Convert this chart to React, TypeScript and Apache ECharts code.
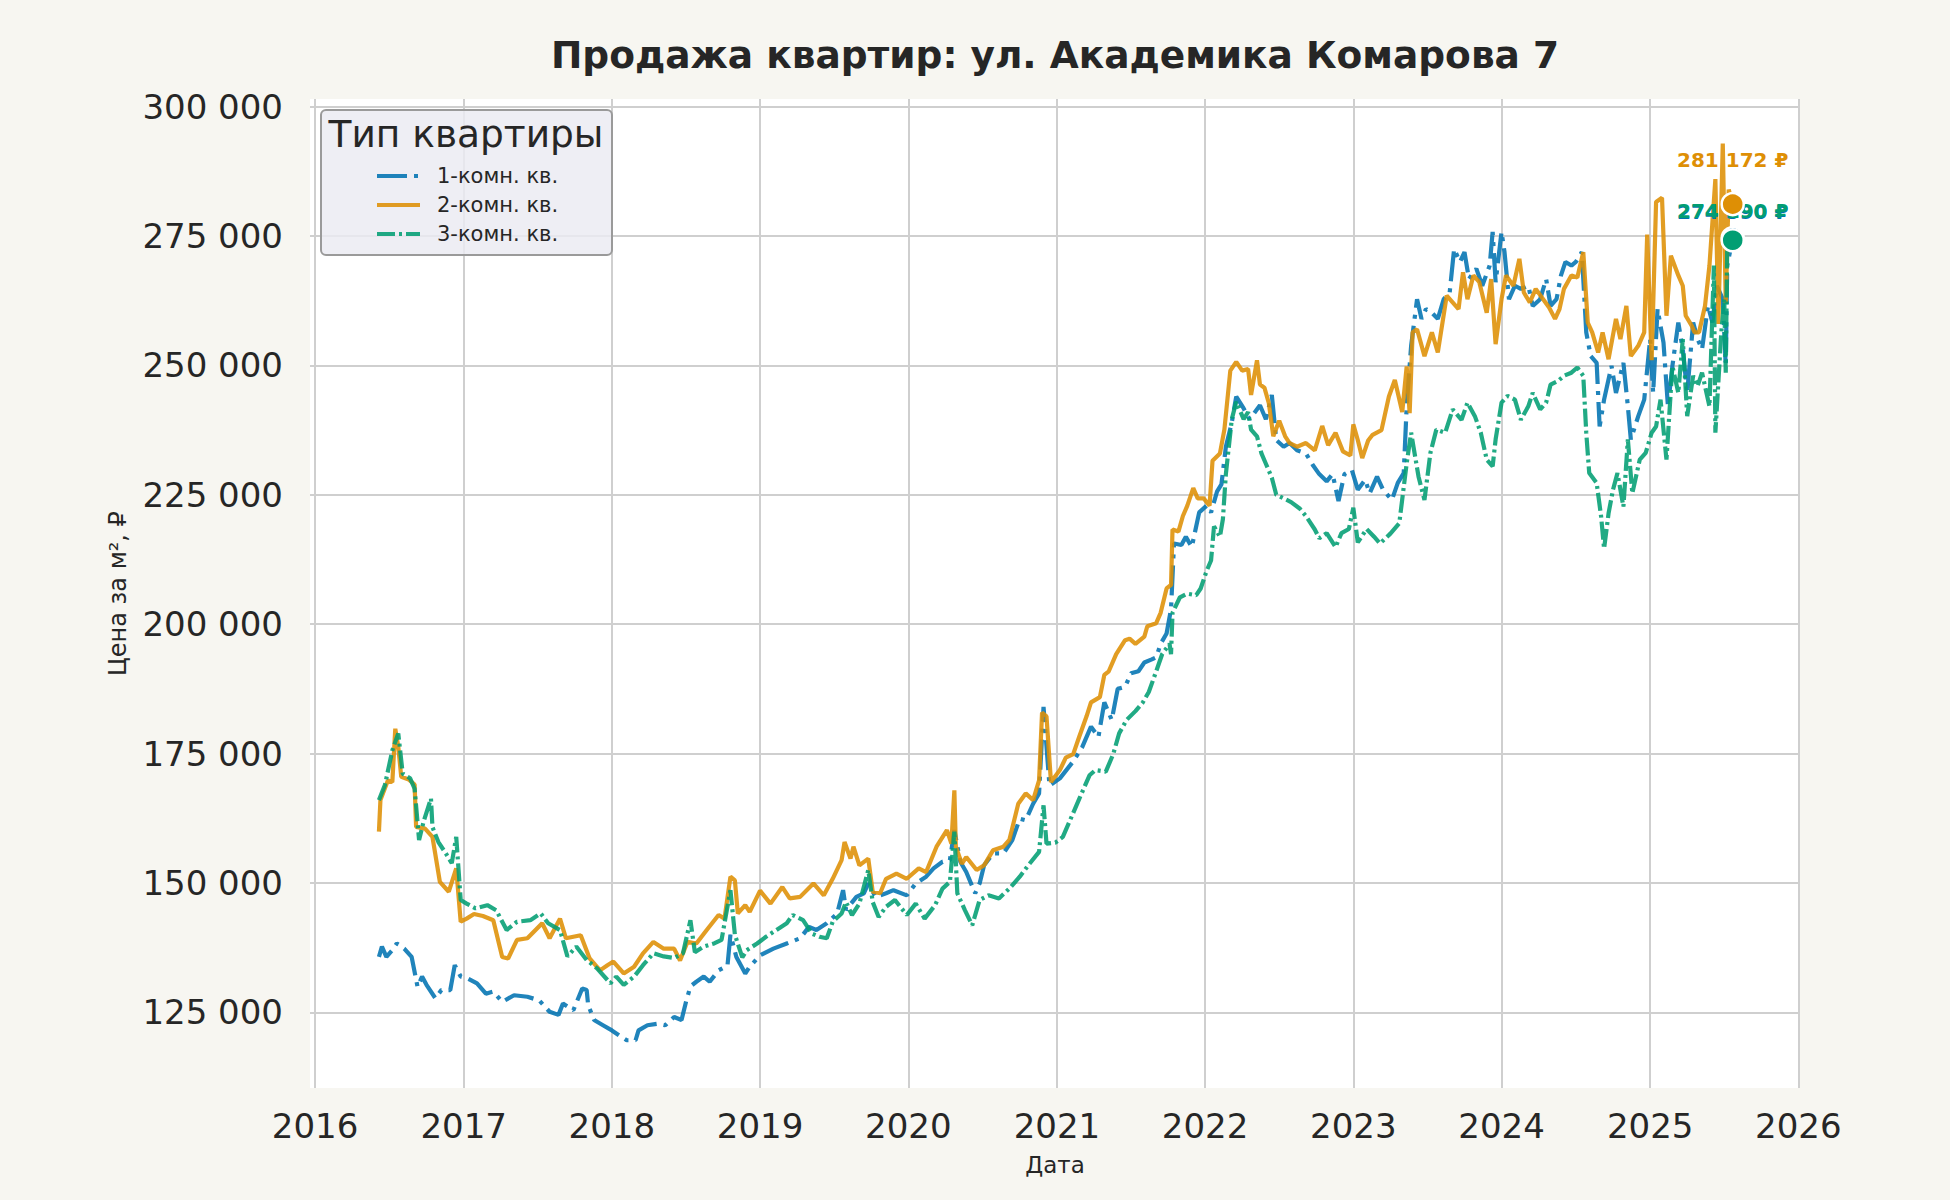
import React, { useEffect, useRef } from "react";
import * as echarts from "echarts";

const FONT = "DejaVu Sans";
const TEXT = "#262626";
const BG = "#f7f6f1";

const chartTitle = "Продажа квартир: ул. Академика Комарова 7";
const legendTitle = "Тип квартиры";
const seriesNames = ["1-комн. кв.", "2-комн. кв.", "3-комн. кв."];
const seriesColors = ["#0173b2", "#de8f05", "#029e73"];
const yearTicks = [2016, 2017, 2018, 2019, 2020, 2021, 2022, 2023, 2024, 2025, 2026];
const priceTicks = [125000, 150000, 175000, 200000, 225000, 250000, 275000, 300000];

// 1-комн. кв.: decimal year / price in thousand ₽ per m²
const oneRoomT = [
  2016.43, 2016.45, 2016.48, 2016.52, 2016.55, 2016.6, 2016.65, 2016.69, 2016.72, 2016.75, 2016.81, 2016.85, 2016.91, 2016.94, 2016.98,
  2017.03, 2017.09, 2017.15, 2017.2, 2017.26, 2017.34, 2017.43, 2017.51, 2017.58, 2017.64, 2017.67, 2017.74, 2017.8, 2017.83, 2017.84, 2017.88, 2017.94,
  2018.0, 2018.06, 2018.1, 2018.16, 2018.18, 2018.24, 2018.31, 2018.36, 2018.42, 2018.47, 2018.5, 2018.53, 2018.57, 2018.62, 2018.66, 2018.72, 2018.78, 2018.8, 2018.84, 2018.9, 2018.93,
  2019.0, 2019.09, 2019.18, 2019.27, 2019.33, 2019.38, 2019.45, 2019.52, 2019.56, 2019.58, 2019.65, 2019.7, 2019.73, 2019.78, 2019.85, 2019.9, 2019.99,
  2020.05, 2020.12, 2020.17, 2020.23, 2020.28, 2020.31, 2020.35, 2020.39, 2020.45, 2020.48, 2020.51, 2020.57, 2020.64, 2020.7, 2020.75, 2020.79, 2020.84, 2020.88, 2020.91, 2020.95,
  2021.02, 2021.11, 2021.17, 2021.23, 2021.28, 2021.32, 2021.37, 2021.41, 2021.46, 2021.5, 2021.55, 2021.59, 2021.64, 2021.67, 2021.7, 2021.74, 2021.77, 2021.79, 2021.84, 2021.87, 2021.91, 2021.93, 2021.96,
  2022.01, 2022.04, 2022.08, 2022.11, 2022.14, 2022.18, 2022.21, 2022.26, 2022.3, 2022.37, 2022.41, 2022.45, 2022.48, 2022.53, 2022.57, 2022.62, 2022.68, 2022.73, 2022.77, 2022.82, 2022.86, 2022.9, 2022.94, 2022.99,
  2023.03, 2023.08, 2023.11, 2023.16, 2023.2, 2023.26, 2023.3, 2023.34, 2023.36, 2023.39, 2023.43, 2023.46, 2023.49, 2023.53, 2023.57, 2023.61, 2023.65, 2023.68, 2023.72, 2023.75, 2023.78, 2023.83, 2023.87, 2023.92, 2023.94, 2023.96,
  2024.0, 2024.02, 2024.05, 2024.09, 2024.13, 2024.18, 2024.21, 2024.26, 2024.3, 2024.33, 2024.37, 2024.4, 2024.43, 2024.47, 2024.5, 2024.54, 2024.57, 2024.6, 2024.64, 2024.66, 2024.69, 2024.74, 2024.77, 2024.82, 2024.85, 2024.87, 2024.92, 2024.96,
  2025.0, 2025.02, 2025.05, 2025.09, 2025.12, 2025.15, 2025.19, 2025.22, 2025.25, 2025.29, 2025.32, 2025.35, 2025.39, 2025.42, 2025.45, 2025.49, 2025.51, 2025.52, 2025.557,
];
const oneRoomK = [
  135.7, 137.7, 135.7, 137.0, 138.3, 137.3, 135.7, 129.9, 131.9, 130.3, 127.7, 129.3, 129.3, 134.1, 131.9,
  131.5, 130.6, 128.6, 129.0, 127.0, 128.3, 128.0, 127.3, 125.1, 124.5, 126.7, 125.4, 129.6, 129.3, 126.4, 123.5, 122.5,
  121.5, 120.3, 119.6, 119.6, 121.5, 122.5, 122.8, 122.5, 124.1, 123.5, 127.0, 130.0, 130.9, 131.9, 130.9, 133.1, 134.0, 140.0, 135.7, 132.5, 133.8,
  136.0, 137.3, 138.3, 139.3, 141.5, 140.9, 142.2, 144.1, 148.6, 144.8, 147.3, 148.0, 149.9, 147.3, 148.0, 148.6, 147.6,
  149.9, 151.2, 152.8, 154.1, 154.4, 160.2, 154.1, 152.1, 148.0, 149.9, 153.4, 155.7, 155.7, 158.3, 162.4, 162.1, 165.3, 167.3, 184.0, 168.8,
  170.2, 173.5, 176.2, 180.2, 178.2, 184.9, 181.5, 187.5, 187.9, 190.5, 190.9, 192.6, 193.2, 193.6, 196.2, 198.2, 202.9, 215.6, 215.3, 216.9, 214.9, 217.6, 221.6,
  222.9, 221.6, 225.6, 227.0, 234.3, 239.0, 244.0, 241.7, 239.6, 242.3, 239.6, 244.3, 235.6, 234.3, 235.0, 233.6, 233.0, 230.6, 229.0, 227.6, 229.0, 223.8, 229.0, 229.8,
  226.0, 227.9, 225.3, 228.5, 226.0, 224.0, 227.3, 229.2, 242.1, 253.8, 262.8, 259.0, 260.9, 260.2, 259.0, 262.8, 264.1, 272.5, 270.0, 271.9, 266.7, 268.7, 265.4, 269.3, 275.8, 266.1,
  275.8, 271.9, 262.8, 265.4, 264.8, 265.4, 261.5, 262.8, 266.7, 261.5, 262.8, 267.4, 270.0, 269.3, 270.0, 271.9, 256.4, 251.8, 250.5, 238.2, 243.4, 249.9, 244.7, 250.5, 242.1, 235.7, 240.2, 243.4,
  255.1, 244.7, 260.9, 254.4, 242.1, 249.9, 258.3, 253.1, 244.7, 258.3, 255.1, 253.1, 261.5, 258.3, 265.4, 262.8, 249.9, 269.3, 274.59,
];

// 2-комн. кв.
const twoRoomT = [
  2016.43, 2016.44, 2016.49, 2016.52, 2016.54, 2016.56, 2016.58, 2016.63, 2016.67, 2016.68, 2016.74, 2016.79, 2016.84, 2016.9, 2016.95, 2016.98,
  2017.02, 2017.07, 2017.13, 2017.2, 2017.26, 2017.3, 2017.36, 2017.43, 2017.53, 2017.58, 2017.65, 2017.69, 2017.79, 2017.85, 2017.92, 2017.97,
  2018.01, 2018.08, 2018.15, 2018.21, 2018.28, 2018.35, 2018.42, 2018.46, 2018.51, 2018.57, 2018.64, 2018.72, 2018.76, 2018.8, 2018.83, 2018.85, 2018.9, 2018.93,
  2019.0, 2019.07, 2019.15, 2019.2, 2019.27, 2019.36, 2019.43, 2019.49, 2019.55, 2019.57, 2019.61, 2019.63, 2019.67, 2019.73, 2019.76, 2019.81, 2019.85, 2019.92, 2019.99,
  2020.07, 2020.12, 2020.19, 2020.26, 2020.29, 2020.31, 2020.32, 2020.36, 2020.39, 2020.46, 2020.51, 2020.57, 2020.64, 2020.68, 2020.74, 2020.79, 2020.84, 2020.88, 2020.9, 2020.93, 2020.96,
  2021.02, 2021.06, 2021.11, 2021.15, 2021.2, 2021.23, 2021.29, 2021.32, 2021.35, 2021.4, 2021.46, 2021.49, 2021.53, 2021.59, 2021.61, 2021.67, 2021.7, 2021.74, 2021.77, 2021.78, 2021.82, 2021.85, 2021.88, 2021.92, 2021.95, 2021.99,
  2022.03, 2022.05, 2022.1, 2022.13, 2022.17, 2022.21, 2022.25, 2022.29, 2022.31, 2022.35, 2022.37, 2022.4, 2022.43, 2022.46, 2022.5, 2022.54, 2022.57, 2022.62, 2022.68, 2022.74, 2022.79, 2022.83, 2022.88, 2022.93, 2022.98,
  2023.0, 2023.03, 2023.06, 2023.1, 2023.13, 2023.19, 2023.24, 2023.28, 2023.33, 2023.36, 2023.38, 2023.4, 2023.43, 2023.48, 2023.53, 2023.57, 2023.63, 2023.67, 2023.71, 2023.74, 2023.77, 2023.81, 2023.85, 2023.9, 2023.93, 2023.96,
  2024.0, 2024.03, 2024.08, 2024.12, 2024.15, 2024.19, 2024.23, 2024.28, 2024.32, 2024.36, 2024.39, 2024.42, 2024.47, 2024.51, 2024.55, 2024.58, 2024.61, 2024.65, 2024.68, 2024.72, 2024.77, 2024.8, 2024.84, 2024.87, 2024.92, 2024.96, 2024.98,
  2025.01, 2025.04, 2025.08, 2025.11, 2025.14, 2025.19, 2025.22, 2025.24, 2025.28, 2025.3, 2025.33, 2025.37, 2025.4, 2025.44, 2025.46, 2025.49, 2025.51, 2025.53, 2025.557,
];
const twoRoomK = [
  159.9, 166.0, 169.8, 169.5, 179.8, 176.3, 170.5, 170.0, 169.0, 160.8, 160.5, 158.9, 150.2, 148.3, 152.8, 142.5,
  143.1, 144.0, 143.6, 142.8, 135.7, 135.4, 139.0, 139.3, 142.2, 139.3, 143.1, 139.3, 139.9, 135.4, 133.1, 134.1,
  134.8, 132.5, 133.8, 136.4, 138.6, 137.3, 137.3, 135.0, 138.6, 138.3, 140.9, 143.8, 143.1, 151.2, 150.5, 144.1, 145.7, 144.4,
  148.5, 146.0, 149.2, 147.0, 147.3, 149.9, 147.6, 150.8, 154.4, 157.9, 154.7, 157.0, 153.4, 154.7, 148.3, 148.0, 150.8, 151.8, 150.8,
  152.8, 152.1, 157.0, 160.2, 157.6, 167.9, 157.0, 153.7, 155.0, 152.5, 153.4, 156.3, 157.0, 158.3, 165.3, 167.3, 166.0, 169.8, 182.9, 182.2, 169.5,
  171.8, 174.2, 174.9, 178.2, 182.2, 184.9, 185.9, 190.2, 190.9, 194.2, 196.9, 197.2, 196.2, 197.6, 199.6, 200.2, 202.2, 206.9, 207.6, 218.3, 217.9, 220.9, 222.9, 226.3, 224.3, 224.3,
  222.9, 231.6, 233.0, 237.6, 249.0, 250.7, 249.0, 249.3, 244.3, 251.0, 246.3, 245.7, 242.7, 236.3, 239.3, 236.3, 235.0, 234.3, 235.0, 233.6, 238.3, 234.6, 237.0, 233.4, 232.6,
  238.6, 235.6, 232.1, 235.5, 236.6, 237.5, 244.0, 247.2, 241.0, 249.8, 240.8, 256.4, 257.0, 251.8, 256.4, 252.5, 263.5, 262.2, 260.9, 268.0, 262.8, 267.4, 266.1, 260.2, 266.7, 254.1,
  262.8, 267.4, 265.4, 270.6, 264.1, 262.2, 264.8, 262.8, 261.2, 259.0, 260.9, 264.8, 267.4, 267.0, 271.9, 258.3, 256.4, 252.5, 256.4, 251.2, 259.0, 255.1, 261.5, 251.8, 253.8, 256.4, 275.3,
  251.0, 281.6, 282.4, 259.6, 271.2, 267.4, 265.4, 259.6, 257.7, 256.4, 256.4, 261.5, 269.3, 286.0, 258.0, 292.9, 262.0, 284.0, 281.172,
];

// 3-комн. кв.
const threeRoomT = [
  2016.43, 2016.47, 2016.52, 2016.56, 2016.59, 2016.64, 2016.67, 2016.7, 2016.73, 2016.78, 2016.79, 2016.83, 2016.88, 2016.92, 2016.95, 2016.98,
  2017.02, 2017.08, 2017.16, 2017.22, 2017.29, 2017.36, 2017.45, 2017.52, 2017.57, 2017.65, 2017.7, 2017.76, 2017.83, 2017.9, 2017.99,
  2018.03, 2018.08, 2018.15, 2018.21, 2018.28, 2018.35, 2018.42, 2018.48, 2018.53, 2018.56, 2018.62, 2018.69, 2018.74, 2018.8, 2018.83, 2018.88, 2018.91, 2018.98,
  2019.04, 2019.11, 2019.18, 2019.22, 2019.29, 2019.35, 2019.4, 2019.45, 2019.49, 2019.55, 2019.58, 2019.62, 2019.67, 2019.73, 2019.76, 2019.8, 2019.85, 2019.91, 2019.99,
  2020.05, 2020.11, 2020.18, 2020.23, 2020.28, 2020.31, 2020.33, 2020.38, 2020.43, 2020.48, 2020.54, 2020.61, 2020.68, 2020.75, 2020.81, 2020.88, 2020.91, 2020.93, 2020.99,
  2021.04, 2021.09, 2021.15, 2021.22, 2021.26, 2021.33, 2021.38, 2021.42, 2021.47, 2021.53, 2021.58, 2021.62, 2021.67, 2021.71, 2021.76, 2021.77, 2021.78, 2021.83, 2021.88, 2021.94, 2021.97,
  2022.01, 2022.04, 2022.06, 2022.1, 2022.12, 2022.14, 2022.18, 2022.21, 2022.26, 2022.29, 2022.31, 2022.35, 2022.38, 2022.41, 2022.45, 2022.48, 2022.53, 2022.58, 2022.64, 2022.68, 2022.74, 2022.77, 2022.82, 2022.88, 2022.92, 2022.97,
  2023.0, 2023.03, 2023.09, 2023.14, 2023.18, 2023.25, 2023.31, 2023.36, 2023.39, 2023.44, 2023.48, 2023.52, 2023.56, 2023.62, 2023.67, 2023.73, 2023.77, 2023.82, 2023.86, 2023.9, 2023.94, 2023.96,
  2024.0, 2024.04, 2024.09, 2024.13, 2024.18, 2024.21, 2024.26, 2024.3, 2024.33, 2024.38, 2024.42, 2024.47, 2024.51, 2024.55, 2024.57, 2024.59, 2024.64, 2024.67, 2024.69, 2024.72, 2024.75, 2024.78, 2024.82, 2024.85, 2024.88, 2024.93, 2024.97,
  2025.01, 2025.04, 2025.07, 2025.11, 2025.15, 2025.19, 2025.22, 2025.25, 2025.29, 2025.32, 2025.35, 2025.4, 2025.43, 2025.44, 2025.48, 2025.5, 2025.51, 2025.52, 2025.557,
];
const threeRoomK = [
  166.0, 168.9, 175.6, 178.9, 171.1, 170.2, 168.2, 158.3, 161.8, 166.3, 160.8, 157.9, 155.7, 153.8, 158.9, 146.7,
  146.0, 145.1, 145.7, 144.7, 140.9, 142.5, 142.8, 144.1, 142.2, 140.9, 135.8, 137.7, 135.1, 133.5, 130.6,
  131.9, 130.3, 131.9, 134.1, 136.4, 135.8, 135.5, 136.4, 142.8, 136.6, 137.7, 138.3, 139.0, 148.6, 140.0, 135.6, 137.0, 138.3,
  139.6, 140.9, 142.2, 143.8, 142.8, 140.2, 139.6, 139.3, 142.5, 144.1, 146.3, 143.8, 146.0, 152.5, 146.3, 143.4, 145.4, 146.7, 143.8,
  146.0, 143.1, 145.7, 148.9, 150.2, 159.9, 148.0, 144.8, 141.8, 146.7, 147.6, 147.0, 148.9, 151.2, 153.5, 156.0, 165.0, 157.6, 157.8,
  158.9, 162.2, 166.2, 170.8, 171.8, 171.5, 174.9, 178.9, 181.5, 183.2, 184.9, 186.9, 190.9, 194.2, 196.2, 194.2, 202.2, 205.2, 205.9, 205.6, 206.9,
  210.3, 212.3, 218.9, 216.9, 220.3, 229.0, 239.6, 243.0, 239.6, 241.0, 237.6, 236.3, 233.0, 231.0, 228.3, 225.0, 224.3, 223.6, 222.3, 220.9, 218.3, 216.6, 217.6, 214.9, 217.6, 218.4,
  222.5, 215.8, 218.4, 216.9, 215.6, 217.5, 219.5, 231.1, 237.0, 228.5, 224.0, 233.1, 237.6, 237.0, 241.5, 239.5, 242.8, 240.2, 237.0, 231.8, 230.5, 235.7,
  242.8, 244.1, 243.4, 239.5, 242.1, 244.7, 241.5, 242.8, 246.3, 247.0, 248.0, 248.6, 249.6, 248.0, 237.0, 229.2, 227.3, 220.8, 214.6, 221.4, 226.0, 229.2, 222.7, 235.7, 225.3, 231.8, 233.1,
  237.0, 238.2, 243.4, 231.8, 249.9, 244.7, 255.1, 240.2, 248.0, 246.0, 248.6, 242.1, 269.3, 237.0, 256.4, 262.8, 248.6, 273.2, 274.19,
];

// values shown next to the final points
const lastValues = [274590, 281172, 274190];
const lastLabelOffsets = [-26, -44, -29];

const yearToTs = (y: number) => {
  const yr = Math.floor(y);
  const a = Date.UTC(yr, 0, 1);
  const b = Date.UTC(yr + 1, 0, 1);
  return a + (y - yr) * (b - a);
};
const fmtNum = (n: number) => String(Math.round(n)).replace(/\B(?=(\d{3})+(?!\d))/g, " ");

const seriesT = [oneRoomT, twoRoomT, threeRoomT];
const seriesK = [oneRoomK, twoRoomK, threeRoomK];
const dashes: any[] = [[30, 7, 4, 7], "solid", [18, 4, 3, 4]];
const legendRowsY = [176, 205, 234];
const LW = 4.2;

export default function App() {
  const ref = useRef<HTMLDivElement>(null);
  useEffect(() => {
    if (!ref.current) return;
    const chart = echarts.init(ref.current, null, { renderer: "svg" });
    const yearTs = yearTicks.map((y) => Date.UTC(y, 0, 1));

    const lineSeries = seriesNames.map((name, i) => ({
      name,
      type: "line",
      data: seriesT[i].map((t, j) => [yearToTs(t), seriesK[i][j] * 1000]),
      showSymbol: false,
      symbol: "none",
      z: 2 + i,
      lineStyle: { color: seriesColors[i], width: LW, type: dashes[i], cap: "butt", opacity: 0.88 },
      itemStyle: { color: seriesColors[i] },
      emphasis: { disabled: true },
    }));

    const endSeries = seriesNames.map((name, i) => {
      const t = seriesT[i][seriesT[i].length - 1];
      return {
        name: name + " (последнее)",
        type: "scatter",
        data: [[yearToTs(t), lastValues[i]]],
        symbol: "circle",
        symbolSize: 22,
        z: [6, 8, 7][i],
        itemStyle: { color: seriesColors[i], borderColor: "#ffffff", borderWidth: 2.5, opacity: 1 },
        label: {
          show: true,
          position: "inside",
          offset: [0, lastLabelOffsets[i]],
          formatter: () => fmtNum(lastValues[i]) + " ₽",
          color: seriesColors[i],
          fontFamily: FONT,
          fontWeight: "bold",
          fontSize: 20,
        },
        emphasis: { disabled: true },
      };
    });

    const legendGraphic: any[] = [
      {
        type: "rect",
        shape: { x: 321, y: 110, width: 291, height: 145, r: 5 },
        style: { fill: "rgba(234,234,242,0.82)", stroke: "#9a9a9a", lineWidth: 2 },
        z: 20,
      },
      {
        type: "text",
        x: 466,
        y: 134,
        z: 21,
        style: { text: legendTitle, fontFamily: FONT, fontSize: 37.5, fill: TEXT, align: "center", verticalAlign: "middle" },
      },
    ];
    seriesNames.forEach((name, i) => {
      const y = legendRowsY[i];
      legendGraphic.push({
        type: "line",
        z: 21,
        shape: { x1: 377, y1: y, x2: 420, y2: y },
        style: {
          stroke: seriesColors[i],
          lineWidth: LW,
          lineDash: dashes[i] === "solid" ? null : dashes[i],
          opacity: 0.88,
        },
      });
      legendGraphic.push({
        type: "text",
        x: 437,
        y,
        z: 21,
        style: { text: name, fontFamily: FONT, fontSize: 21, fill: TEXT, align: "left", verticalAlign: "middle" },
      });
    });

    chart.setOption({
      animation: false,
      backgroundColor: BG,
      textStyle: { fontFamily: FONT },
      title: {
        text: chartTitle,
        left: 1050,
        top: 31,
        textAlign: "center",
        textStyle: { fontFamily: FONT, fontWeight: "bold", fontSize: 37.5, color: TEXT },
      },
      grid: {
        left: 310,
        top: 99,
        width: 1490,
        height: 989,
        show: true,
        backgroundColor: "#ffffff",
        borderWidth: 0,
        containLabel: false,
      },
      xAxis: {
        type: "value",
        min: yearToTs(2015.966),
        max: yearToTs(2026.011),
        axisLine: { show: false },
        axisTick: { show: false, customValues: yearTs },
        axisLabel: {
          customValues: yearTs,
          formatter: (v: number) => String(new Date(v).getUTCFullYear()),
          fontFamily: FONT,
          fontSize: 34,
          color: TEXT,
          margin: 21,
        },
        splitLine: { show: true, lineStyle: { color: "#cfcfcf", width: 2 } },
        name: "Дата",
        nameLocation: "middle",
        nameGap: 65,
        nameTextStyle: { fontFamily: FONT, fontSize: 23, color: TEXT },
      },
      yAxis: {
        type: "value",
        min: 110370,
        max: 301490,
        axisLine: { show: false },
        axisTick: { show: false, customValues: priceTicks },
        axisLabel: {
          customValues: priceTicks,
          formatter: (v: number) => fmtNum(v),
          fontFamily: FONT,
          fontSize: 34,
          color: TEXT,
          margin: 27,
        },
        splitLine: { show: true, lineStyle: { color: "#cfcfcf", width: 2 } },
        name: "Цена за м², ₽",
        nameLocation: "middle",
        nameGap: 180,
        nameRotate: 90,
        nameTextStyle: { fontFamily: FONT, fontSize: 24, color: TEXT },
      },
      series: [...lineSeries, ...endSeries],
      graphic: legendGraphic,
    });
    return () => chart.dispose();
  }, []);
  return (
    <div
      ref={ref}
      style={{ position: "fixed", left: 0, top: 0, width: 1950, height: 1200, background: BG }}
    />
  );
}
